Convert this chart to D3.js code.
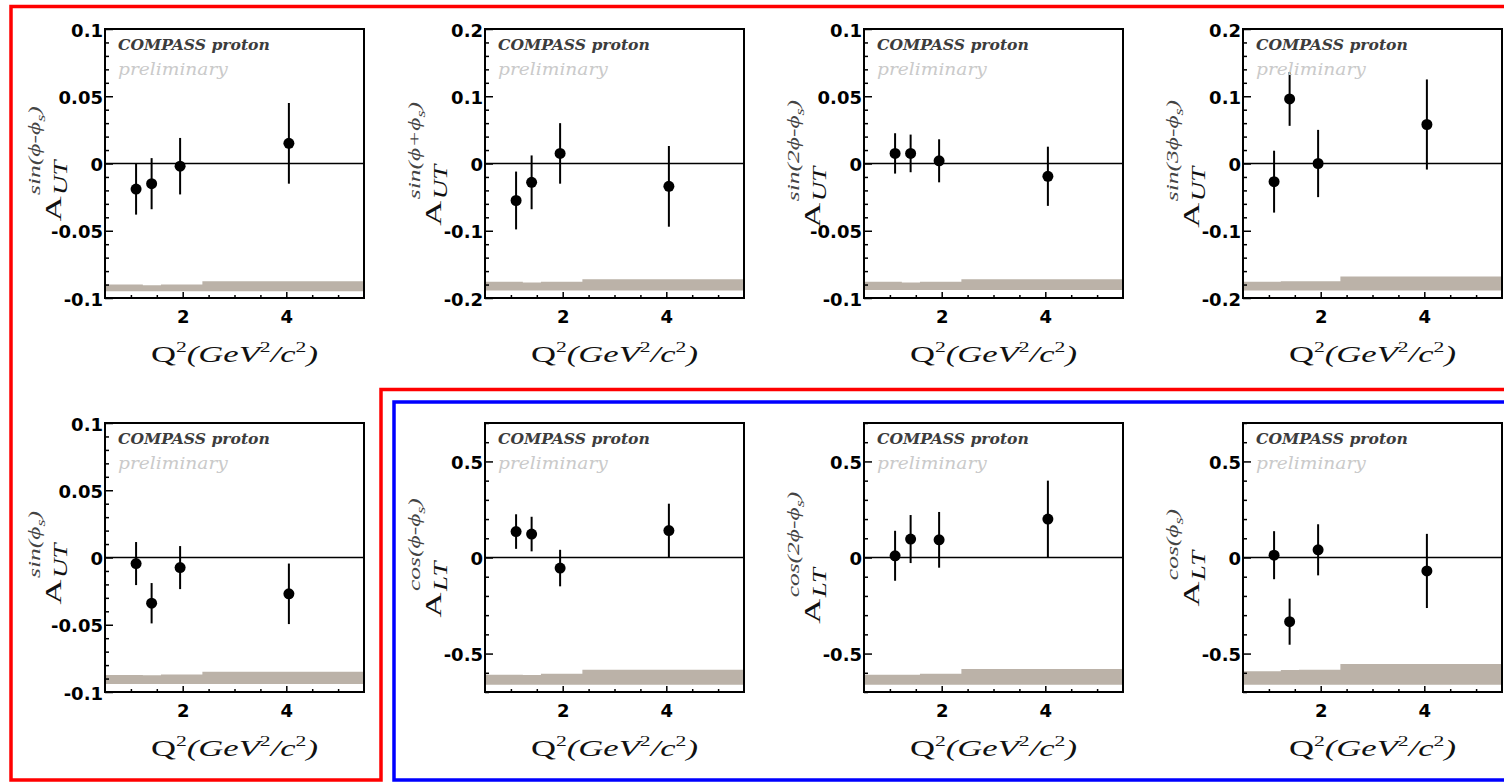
<!DOCTYPE html>
<html>
<head>
<meta charset="utf-8">
<script src="https://cdnjs.cloudflare.com/ajax/libs/d3/7.8.5/d3.min.js"></script>
<style>
  body { margin: 0; background: #fff; }
</style>
</head>
<body>
<div class="visHolder"></div>
<script>
// Q^2 bin centres (GeV^2/c^2), shared by all panels
var q2 = [1.1, 1.4, 1.95, 4.05];
// Q^2 bin edges of the systematic band
var sysEdges = [0.5, 1.23, 1.58, 2.38, 5.5];

// modulation labels: A_{idx}^{fn(arg phi_s)}
var modFunction = ["sin", "sin", "sin", "sin", "sin", "cos", "cos", "cos"];
var modArgument = ["ϕ-ϕ", "ϕ+ϕ", "2ϕ-ϕ", "3ϕ-ϕ", "ϕ", "ϕ-ϕ", "2ϕ-ϕ", "ϕ"];
var asymIndex = ["UT", "UT", "UT", "UT", "UT", "LT", "LT", "LT"];

// asymmetry values and statistical errors
var sinPhiMinusPhiS = [-0.019, -0.015, -0.002, 0.015];
var sinPhiMinusPhiSErr = [0.019, 0.019, 0.021, 0.030];
var sinPhiPlusPhiS = [-0.055, -0.028, 0.015, -0.034];
var sinPhiPlusPhiSErr = [0.043, 0.040, 0.045, 0.060];
var sin2PhiMinusPhiS = [0.0075, 0.0075, 0.002, -0.0095];
var sin2PhiMinusPhiSErr = [0.015, 0.014, 0.016, 0.022];
var sin3PhiMinusPhiS = [-0.027, 0.096, 0.0, 0.058];
var sin3PhiMinusPhiSErr = [0.046, 0.040, 0.050, 0.067];
var sinPhiS = [-0.0045, -0.034, -0.0075, -0.027];
var sinPhiSErr = [0.016, 0.015, 0.016, 0.0225];
var cosPhiMinusPhiS = [0.135, 0.122, -0.055, 0.14];
var cosPhiMinusPhiSErr = [0.09, 0.09, 0.095, 0.14];
var cos2PhiMinusPhiS = [0.009, 0.096, 0.092, 0.2];
var cos2PhiMinusPhiSErr = [0.13, 0.125, 0.145, 0.2];
var cosPhiS = [0.012, -0.334, 0.040, -0.07];
var cosPhiSErr = [0.125, 0.12, 0.133, 0.193];

// systematic band: lower edge and upper edge per Q^2 bin
var sysBottom = [-0.095, -0.189, -0.094, -0.189, -0.094, -0.662, -0.662, -0.662];
var sysTop = [
  [-0.090, -0.0905, -0.090, -0.0875],
  [-0.176, -0.177, -0.176, -0.172],
  [-0.088, -0.0885, -0.088, -0.086],
  [-0.176, -0.175, -0.175, -0.168],
  [-0.0874, -0.0876, -0.087, -0.085],
  [-0.610, -0.612, -0.605, -0.584],
  [-0.610, -0.610, -0.605, -0.580],
  [-0.592, -0.585, -0.584, -0.554]
];

// axis ranges and tick labels
var yMax = [0.1, 0.2, 0.1, 0.2, 0.1, 0.7, 0.7, 0.7];
var yMinorStep = [0.01, 0.02, 0.01, 0.02, 0.01, 0.1, 0.1, 0.1];
var yTicksNarrow = [-0.1, -0.05, 0, 0.05, 0.1];
var yLabelsNarrow = ["-0.1", "-0.05", "0", "0.05", "0.1"];
var yTicksWide = [-0.2, -0.1, 0, 0.1, 0.2];
var yLabelsWide = ["-0.2", "-0.1", "0", "0.1", "0.2"];
var yTicksLT = [-0.5, 0, 0.5];
var yLabelsLT = ["-0.5", "0", "0.5"];
var xTicks = [2, 4];
var xMinorTicks = [1, 1.5, 2.5, 3, 3.5, 4.5, 5];

var values = [sinPhiMinusPhiS, sinPhiPlusPhiS, sin2PhiMinusPhiS, sin3PhiMinusPhiS,
  sinPhiS, cosPhiMinusPhiS, cos2PhiMinusPhiS, cosPhiS];
var errors = [sinPhiMinusPhiSErr, sinPhiPlusPhiSErr, sin2PhiMinusPhiSErr, sin3PhiMinusPhiSErr,
  sinPhiSErr, cosPhiMinusPhiSErr, cos2PhiMinusPhiSErr, cosPhiSErr];
var yTicks = [yTicksNarrow, yTicksWide, yTicksNarrow, yTicksWide, yTicksNarrow, yTicksLT, yTicksLT, yTicksLT];
var yLabels = [yLabelsNarrow, yLabelsWide, yLabelsNarrow, yLabelsWide, yLabelsNarrow, yLabelsLT, yLabelsLT, yLabelsLT];

// layout
var colLeft = [105, 485, 864, 1243],
    rowTop = [29, 423],
    frameW = 259,
    frameH = 269;

var svg = d3.select(".visHolder")
  .append("svg")
  .attr("width", 1504)
  .attr("height", 783)
  .style("display", "block");

// group outlines: red around the sin modulations, blue around A_LT
svg.append("path")
  .attr("d", "M1510,6.5H11V780H381V389.5H1510")
  .attr("fill", "none")
  .attr("stroke", "#ff0000")
  .attr("stroke-width", 3.5);
svg.append("path")
  .attr("d", "M1510,402H394V780H1510")
  .attr("fill", "none")
  .attr("stroke", "#0000ff")
  .attr("stroke-width", 3.5);

// stretch a text horizontally around originX so it spans width
function stretch(text, width, originX) {
  var w = text.node().getBBox().width;
  var k = width / w;
  text.attr("transform", "translate(" + originX + ",0) scale(" + k + ",1) translate(" + (-originX) + ",0)");
}

function drawPanel(p) {
  var panelLeft = colLeft[p % 4],
      panelTop = rowTop[Math.floor(p / 4)];

  var x = d3.scaleLinear().domain([0.5, 5.5]).range([0, frameW]);
  var y = d3.scaleLinear().domain([-yMax[p], yMax[p]]).range([frameH, 0]);

  var g = svg.append("g")
    .attr("transform", "translate(" + panelLeft + "," + panelTop + ")");

  // systematic band
  var bandData = sysTop[p].map((t, i) => ({ q: sysEdges[i], top: t }));
  bandData.push({ q: sysEdges[4], top: sysTop[p][3] });
  var band = d3.area()
    .x(d => x(d.q))
    .y0(y(sysBottom[p]))
    .y1(d => y(d.top))
    .curve(d3.curveStepAfter);
  g.append("path")
    .datum(bandData)
    .attr("d", band)
    .attr("fill", "#bbb2a8");

  // zero line
  g.append("line")
    .attr("x1", 0)
    .attr("x2", frameW)
    .attr("y1", y(0))
    .attr("y2", y(0))
    .attr("stroke", "#000")
    .attr("stroke-width", 1.6);

  // error bars and points
  var pts = values[p].map((v, i) => ({ q: q2[i], v: v, e: errors[p][i] }));
  g.selectAll(".err")
    .data(pts)
    .enter()
    .append("line")
    .attr("class", "err")
    .attr("x1", d => x(d.q))
    .attr("x2", d => x(d.q))
    .attr("y1", d => y(d.v - d.e))
    .attr("y2", d => y(d.v + d.e))
    .attr("stroke", "#000")
    .attr("stroke-width", 2);
  g.selectAll(".pt")
    .data(pts)
    .enter()
    .append("circle")
    .attr("class", "pt")
    .attr("cx", d => x(d.q))
    .attr("cy", d => y(d.v))
    .attr("r", 5.5)
    .attr("fill", "#000");

  // y axis: inward ticks, bold labels
  var nMinor = Math.round(yMax[p] / yMinorStep[p]);
  var minor = d3.range(-nMinor, nMinor + 1)
    .map(k => +(k * yMinorStep[p]).toFixed(3))
    .filter(v => yTicks[p].indexOf(v) < 0);
  var yMinorAxis = g.append("g")
    .call(d3.axisLeft(y).tickValues(minor).tickFormat("").tickSizeInner(-4).tickSizeOuter(0));
  yMinorAxis.select(".domain").remove();

  var yAxis = g.append("g")
    .call(d3.axisLeft(y)
      .tickValues(yTicks[p])
      .tickFormat((d, i) => yLabels[p][i])
      .tickSizeInner(-8)
      .tickSizeOuter(0)
      .tickPadding(2));
  yAxis.select(".domain").remove();
  yAxis.selectAll("text")
    .attr("dy", "0.4em")
    .style("font-family", "'DejaVu Sans', sans-serif")
    .style("font-weight", "bold")
    .style("font-size", "18px")
    .attr("fill", "#000");

  // x axis
  var xMinorAxis = g.append("g")
    .attr("transform", "translate(0," + frameH + ")")
    .call(d3.axisBottom(x).tickValues(xMinorTicks).tickFormat("").tickSizeInner(-3).tickSizeOuter(0));
  xMinorAxis.select(".domain").remove();

  var xAxis = g.append("g")
    .attr("transform", "translate(0," + frameH + ")")
    .call(d3.axisBottom(x)
      .tickValues(xTicks)
      .tickFormat(d3.format("d"))
      .tickSizeInner(-6)
      .tickSizeOuter(0)
      .tickPadding(12));
  xAxis.select(".domain").remove();
  xAxis.selectAll("text")
    .style("font-family", "'DejaVu Sans', sans-serif")
    .style("font-weight", "bold")
    .style("font-size", "18px")
    .attr("fill", "#000");

  g.selectAll(".tick line")
    .attr("stroke", "#000")
    .attr("stroke-width", 1.5);

  // frame
  g.append("rect")
    .attr("width", frameW)
    .attr("height", frameH)
    .attr("fill", "none")
    .attr("stroke", "#000")
    .attr("stroke-width", 2);

  // COMPASS proton / preliminary
  var comp = g.append("text")
    .attr("x", 13)
    .attr("y", 21)
    .style("font-family", "'DejaVu Serif', serif")
    .style("font-style", "italic")
    .style("font-weight", "bold")
    .style("font-size", "15px")
    .attr("fill", "#3c3c3c")
    .text("COMPASS proton");
  stretch(comp, 152, 13);

  var prel = g.append("text")
    .attr("x", 13)
    .attr("y", 46)
    .style("font-family", "'DejaVu Serif', serif")
    .style("font-style", "italic")
    .style("font-size", "16px")
    .attr("fill", "#cacaca")
    .text("preliminary");
  stretch(prel, 111, 13);

  // x axis title
  var xt = g.append("text")
    .attr("x", frameW / 2)
    .attr("y", frameH + 64)
    .attr("text-anchor", "middle")
    .style("font-family", "'Liberation Serif', serif")
    .style("font-size", "24px")
    .attr("fill", "#111");
  xt.append("tspan").text("Q");
  xt.append("tspan").attr("dy", -10).style("font-size", "15px").text("2");
  xt.append("tspan").attr("dy", 10).style("font-style", "italic").text("(GeV");
  xt.append("tspan").attr("dy", -10).style("font-size", "15px").text("2");
  xt.append("tspan").attr("dy", 10).style("font-style", "italic").text("/c");
  xt.append("tspan").attr("dy", -10).style("font-size", "15px").text("2");
  xt.append("tspan").attr("dy", 10).style("font-style", "italic").text(")");
  stretch(xt, 167, frameW / 2);

  // y axis title, rotated, centred on the frame
  var yt = g.append("g")
    .attr("transform", "translate(-44," + (frameH / 2) + ") rotate(-90)");
  var ytInner = yt.append("g");
  var aText = ytInner.append("text")
    .attr("x", 0)
    .attr("y", 0)
    .style("font-family", "'Liberation Serif', serif")
    .style("font-size", "23px")
    .attr("fill", "#111")
    .text("A");
  var aw = aText.node().getComputedTextLength() + 1;
  ytInner.append("text")
    .attr("x", aw)
    .attr("y", 6)
    .style("font-family", "'Liberation Serif', serif")
    .style("font-style", "italic")
    .style("font-size", "18px")
    .attr("fill", "#111")
    .text(asymIndex[p]);
  var sup = ytInner.append("text")
    .attr("x", aw)
    .attr("y", -21)
    .style("font-family", "'Liberation Serif', serif")
    .style("font-style", "italic")
    .style("font-size", "17px")
    .attr("fill", "#444");
  sup.append("tspan").text(modFunction[p] + "(" + modArgument[p]);
  sup.append("tspan").attr("dy", 5).style("font-size", "12px").text("s");
  sup.append("tspan").attr("dy", -5).text(")");
  var tw = ytInner.node().getBBox().width;
  ytInner.attr("transform", "scale(1.5,1) translate(" + (-tw / 2) + ",0)");
}

for (var p = 0; p < 8; p++) {
  drawPanel(p);
}
</script>
</body>
</html>
